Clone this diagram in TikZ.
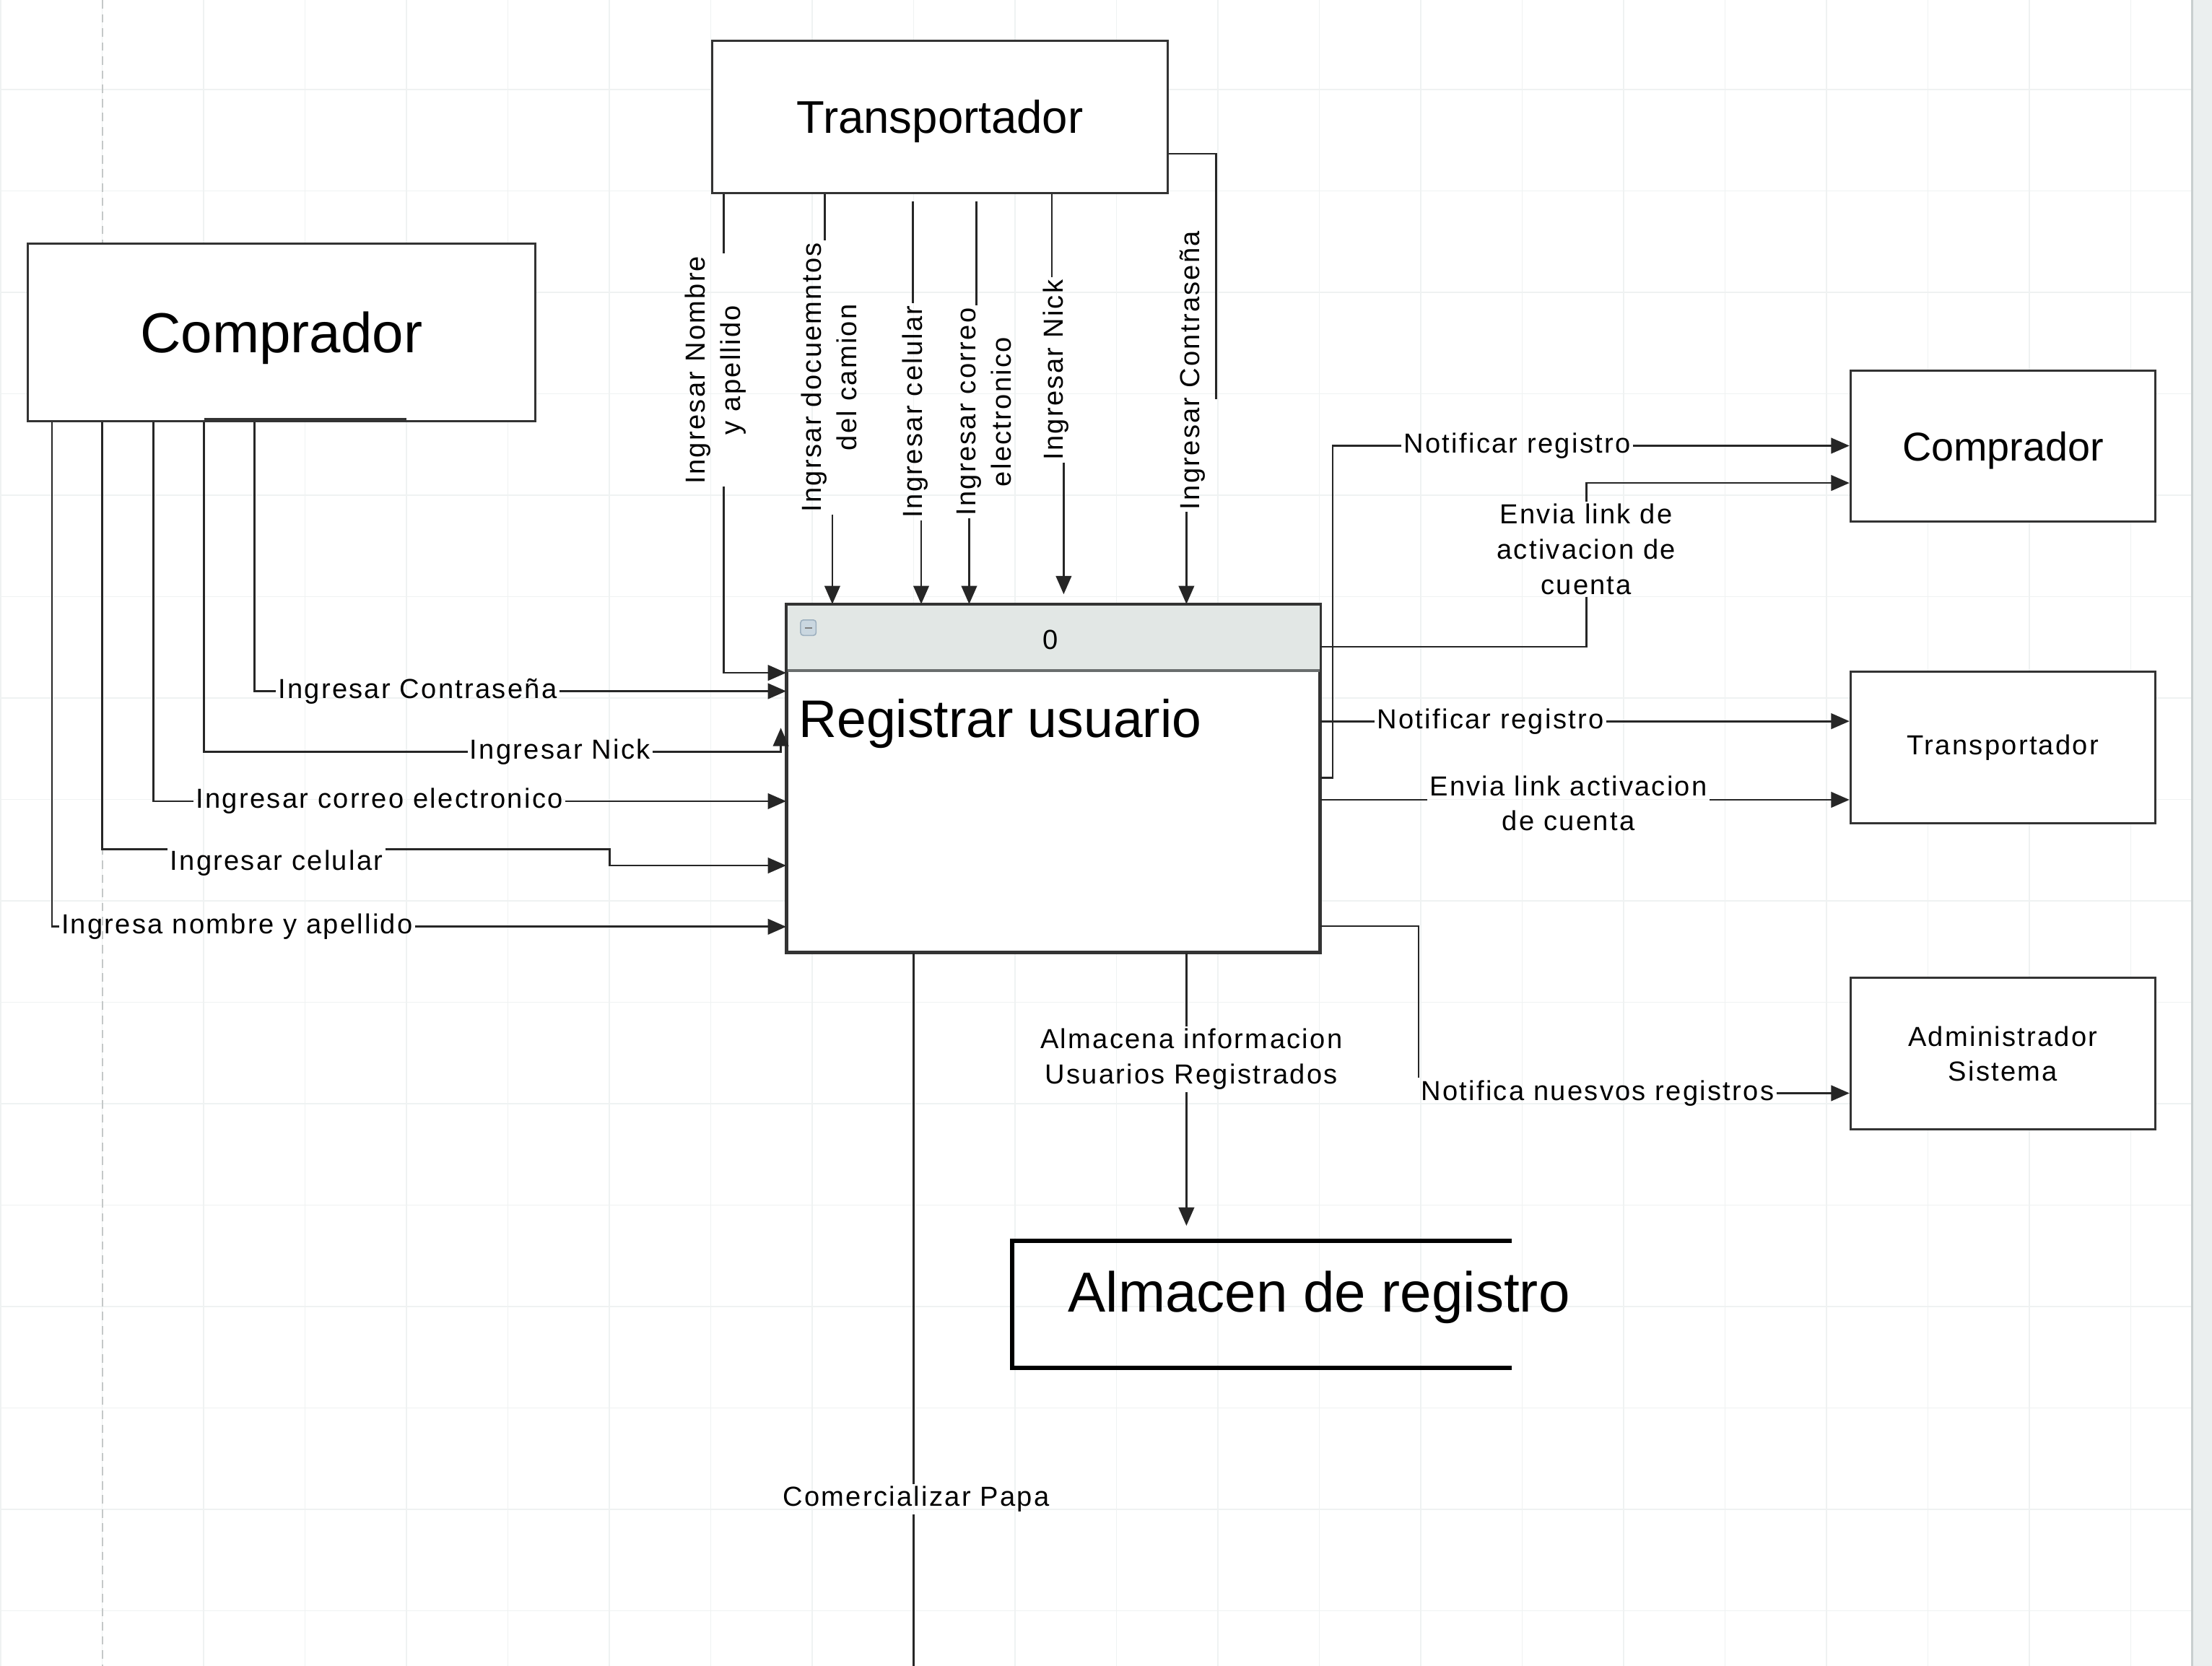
\documentclass[tikz,border=0pt]{standalone}
\usepackage{fontspec}
\setmainfont{Liberation Sans}
\newfontfamily\lblfont{Liberation Sans}[LetterSpace=6]
\usetikzlibrary{arrows.meta}
\definecolor{gridc}{HTML}{EFF2F2}
\definecolor{linec}{HTML}{262626}
\definecolor{boxc}{HTML}{333333}
\definecolor{headc}{HTML}{E2E7E5}
\definecolor{headl}{HTML}{6A6E6E}
\definecolor{bandc}{HTML}{EBEFEF}
\definecolor{bandl}{HTML}{C9CFCF}
\definecolor{dashc}{HTML}{C4C8C8}
\definecolor{iconf}{HTML}{CAD7E0}
\definecolor{icond}{HTML}{9DB0BF}
\begin{document}
\begin{tikzpicture}[x=1pt,y=-1pt,
  ent/.style={draw=boxc, line width=1.6pt, fill=white, inner sep=0pt, anchor=north west},
  lblf/.style={font=\lblfont\fontsize{19.5}{25}\selectfont},
  lbl/.style={lblf, inner sep=1.5pt, align=center},
  big/.style={font=\fontsize{40}{48}\selectfont},
  flow/.style={draw=linec, line width=1.4pt},
  arr/.style={-{Triangle[length=13pt,width=11pt]}}
]
\useasboundingbox (0,0) rectangle (1568,1181);
\fill[white] (0,0) rectangle (1568,1181);
% grid
\foreach \i in {0,...,21} {\draw[gridc, line width=0.8pt] ({0.6+71.9*\i},0) -- ({0.6+71.9*\i},1181);}
\foreach \j in {0,...,15} {\draw[gridc, line width=0.8pt] (0,{63.5+71.9*\j}) -- (1554,{63.5+71.9*\j});}
\draw[dashc, line width=1pt, dash pattern=on 6pt off 4pt] (72.5,0) -- (72.5,1181);
\fill[bandc] (1554,0) rectangle (1568,1181);
\draw[bandl, line width=1.5pt] (1554,0) -- (1554,1181);

% entities
\node[ent, big, text depth=0pt, minimum width=359.7pt, minimum height=126.2pt] (compL) at (18.9,171.8) {Comprador};
\draw[boxc, line width=3pt] (144.6,298) -- (288,298);
\node[ent, font=\fontsize{32.5}{38}\selectfont, text depth=0pt, minimum width=323pt, minimum height=108pt] (transT) at (504,28) {Transportador};
\node[ent, font=\fontsize{28.5}{34}\selectfont, text depth=0pt, minimum width=216pt, minimum height=107pt] (compR) at (1311,262) {Comprador};
\node[ent, lblf, minimum width=216pt, minimum height=107.7pt] (transR) at (1311,475.3) {Transportador};
\node[ent, lblf, align=center, minimum width=216pt, minimum height=107.5pt] (admin) at (1311,692.5) {Administrador\\Sistema};

% process box
\node[ent, minimum width=377.3pt, minimum height=245.7pt] (proc) at (557.3,428.3) {};
\fill[headc] (proc.north west) rectangle (proc.east |- 0,475.5);
\draw[headl, line width=2pt] (proc.west |- 0,475.5) -- (proc.east |- 0,475.5);
\draw[boxc, line width=1.6pt] (proc.north west) rectangle (proc.south east);
\draw[icond, fill=iconf, rounded corners=2pt, line width=0.8pt] (567.5,439.5) rectangle (578.5,450.5);
\draw[gray, line width=1pt] (570.5,445) -- (575.5,445);
\node[lbl] (pid) at (744.5,453.4) {0};
\node[font=\fontsize{37.5}{44}\selectfont, anchor=base west, inner sep=0pt] (ptitle) at (566,522.5) {Registrar usuario};

% store
\node[minimum width=353.4pt, minimum height=89.8pt, inner sep=0pt, anchor=north west] (almacen) at (717.6,879.7) {};
\draw[black, line width=3pt] (almacen.north east) -- (almacen.north west) -- (almacen.south west) -- (almacen.south east);
\node[big, anchor=base, inner sep=0pt] (almT) at (935,930) {Almacen de registro};

% labels: top (vertical)
\node[lbl, rotate=90] (lNom) at (507,262.3) {Ingresar Nombre\\y apellido};
\node[lbl, rotate=90] (lDoc) at (587.6,267.5) {Ingrsar docuemntos\\del camion};
\node[lbl, rotate=90] (lCel) at (648.6,292) {Ingresar celular};
\node[lbl, rotate=90] (lCor) at (697.7,292) {Ingresar correo\\electronico};
\node[lbl, rotate=90] (lNickT) at (748.5,262.3) {Ingresar Nick};
\node[lbl, rotate=90] (lConT) at (845.5,262.5) {Ingresar Contraseña};
% labels: left
\node[lbl] (lConL) at (296,490) {Ingresar Contraseña};
\node[lbl] (lNickL) at (397,533) {Ingresar Nick};
\node[lbl] (lCorL) at (269,568) {Ingresar correo electronico};
\node[lbl] (lCelL) at (196,611.8) {Ingresar celular};
\node[lbl] (lNomL) at (168,657) {Ingresa nombre y apellido};
% labels: right
\node[lbl] (lNot1) at (1075.5,316) {Notificar registro};
\node[lbl] (lEnv1) at (1124.4,389.5) {Envia link de\\activacion de\\cuenta};
\node[lbl] (lNot2) at (1056.5,511.5) {Notificar registro};
\node[lbl] (lEnv2) at (1111.8,569.5) {Envia link activacion\\de cuenta};
\node[lbl, anchor=west] (lNue) at (1005.6,775) {Notifica nuesvos registros};
% labels: bottom
\node[lbl] (lAlm) at (844.5,751) {Almacena informacion\\Usuarios Registrados};
\node[lbl] (lCom) at (649.5,1062.8) {Comercializar Papa};

% free-end coordinates
\coordinate (cT) at (862,283);
\coordinate (nk1) at (553.5,533);
\coordinate (nk2) at (553.5,516);
\coordinate (cel1) at (432,602);
\coordinate (nb) at (944.7,551.4);
\coordinate (comEnd) at (647.5,1181);

% top connectors
\draw[flow] (transT.south -| 512.9,0) -- (lNom.east -| 512.9,0);
\draw[flow,arr] (lNom.west -| 512.9,0) |- (proc.west |- 0,477);
\draw[flow] (transT.south -| 584.6,0) -- (lDoc.east -| 584.6,0);
\draw[flow,arr] (lDoc.west -| 590,0) -- (proc.north -| 590,0);
\draw[flow, shorten <=5pt] (transT.south -| 647,0) -- (lCel.east -| 647,0);
\draw[flow,arr] (lCel.west -| 653,0) -- (proc.north -| 653,0);
\draw[flow, shorten <=5pt] (transT.south -| 692,0) -- (lCor.east -| 692,0);
\draw[flow,arr] (lCor.west -| 687,0) -- (proc.north -| 687,0);
\draw[flow] (transT.south -| 745.6,0) -- (lNickT.east -| 745.6,0);
\draw[flow,arr,shorten >=7pt] (lNickT.west -| 754,0) -- (proc.north -| 754,0);
\draw[flow] (transT.east |- 0,109) -| (cT);
\draw[flow,arr] (lConT.west -| 841,0) -- (proc.north -| 841,0);

% left connectors
\draw[flow] (compL.south -| 180.5,0) |- (lConL.west);
\draw[flow,arr] (lConL.east) -- (lConL.east -| proc.west);
\draw[flow] (compL.south -| 144.6,0) |- (lNickL.west);
\draw[flow,arr] (lNickL.east) -- (nk1) -- (nk2);
\draw[flow] (compL.south -| 108.7,0) |- (lCorL.west);
\draw[flow,arr] (lCorL.east) -- (lCorL.east -| proc.west);
\draw[flow] (compL.south -| 72.5,0) |- (lCelL.west |- 0,602);
\draw[flow,arr] (lCelL.east |- 0,602) -- (cel1) |- (proc.west |- 0,613.6);
\draw[flow] (compL.south -| 36.9,0) |- (lNomL.west);
\draw[flow,arr] (lNomL.east) -- (lNomL.east -| proc.west);

% right connectors
\draw[flow] (proc.east |- 0,551.4) -- (nb) |- (lNot1.west);
\draw[flow,arr] (lNot1.east) -- (lNot1.east -| compR.west);
\draw[flow] (proc.east |- 0,458.5) -| (lEnv1.south);
\draw[flow,arr] (lEnv1.north) |- (compR.west |- 0,342.4);
\draw[flow] (proc.east |- 0,511.3) -- (lNot2.west |- 0,511.3);
\draw[flow,arr] (lNot2.east |- 0,511.3) -- (transR.west |- 0,511.3);
\draw[flow] (proc.east |- 0,567) -- (lEnv2.west |- 0,567);
\draw[flow,arr] (lEnv2.east |- 0,567) -- (transR.west |- 0,567);
\draw[flow] (proc.east |- 0,656.6) -| (lNue.north west);
\draw[flow,arr] (lNue.east) -- (lNue.east -| admin.west);

% bottom connectors
\draw[flow] (proc.south -| 841,0) -- (lAlm.north -| 841,0);
\draw[flow,arr,shorten >=10.7pt] (lAlm.south -| 841,0) -- (almacen.north -| 841,0);
\draw[flow] (proc.south -| 647.5,0) -- (lCom.north -| 647.5,0);
\draw[flow] (lCom.south -| 647.5,0) -- (comEnd);
\end{tikzpicture}
\end{document}
